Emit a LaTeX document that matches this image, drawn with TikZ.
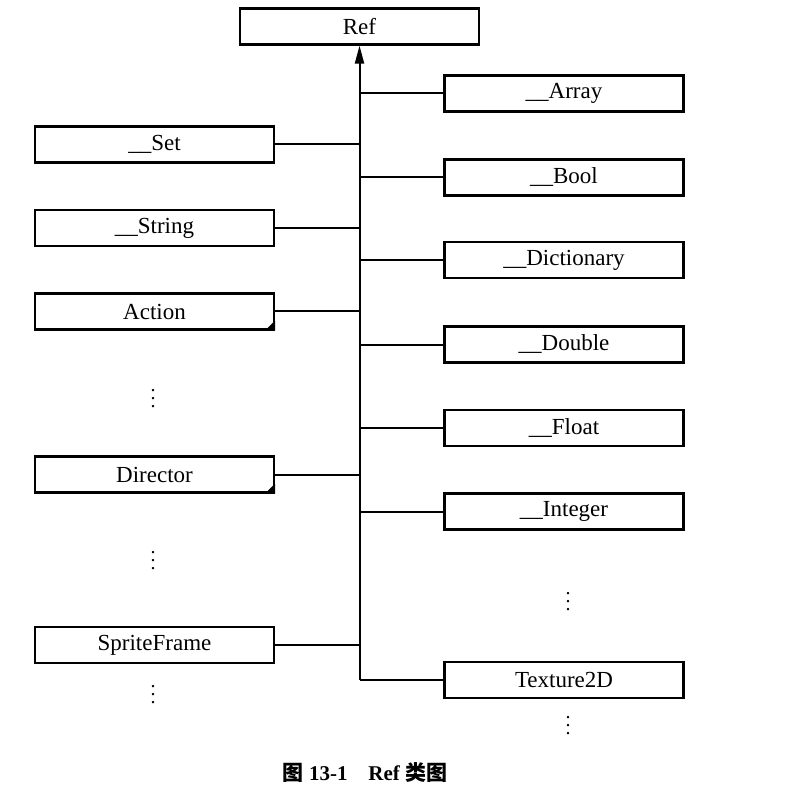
\documentclass[tikz,border=0pt]{standalone}
\usepackage{fontspec}
\setmainfont{Liberation Serif}
\newfontfamily\cjk{Noto Sans CJK SC}
\usetikzlibrary{positioning, arrows.meta, calc}

\tikzset{
  classbox/.style={draw, line width=1.1pt, inner sep=0pt, minimum width=119.5pt,
    minimum height=18pt, font=\fontsize{11.5}{13}\selectfont},
  link/.style={line width=1pt},
  more/.style={inner sep=0pt, font=\fontsize{10}{12}\selectfont},
}

\begin{document}
\begin{tikzpicture}[x=0.5pt, y=-0.5pt]
    \useasboundingbox (0,0) rectangle (800,806);
    % Classe base
    \node[classbox] (ref) at (359.5,26.5) {Ref};
    % Coluna da esquerda
    \node[classbox] (set) at (154.5,144.5) {\_\_Set};
    \node[classbox] (str) at (154.5,228) {\_\_String};
    \node[classbox] (act) at (154.5,311.5) {Action};
    \node[more] (ldots1) at (153,393) {$\vdots$};
    \node[classbox] (dir) at (154.5,474.5) {Director};
    \node[more] (ldots2) at (153,555) {$\vdots$};
    \node[classbox] (spf) at (154.5,645) {SpriteFrame};
    \node[more] (ldots3) at (153,689) {$\vdots$};
    % Coluna da direita
    \node[classbox] (arr) at (564,93.5) {\_\_Array};
    \node[classbox] (boo) at (564,177.5) {\_\_Bool};
    \node[classbox] (dic) at (564,260) {\_\_Dictionary};
    \node[classbox] (dou) at (564,344.5) {\_\_Double};
    \node[classbox] (flo) at (564,428) {\_\_Float};
    \node[classbox] (int) at (564,511.5) {\_\_Integer};
    \node[more] (rdots1) at (568,596) {$\vdots$};
    \node[classbox] (tex) at (564,680) {Texture2D};
    \node[more] (rdots2) at (568,720) {$\vdots$};
    % Cantos dobrados
    \foreach \b in {act, dir}
      \fill (\b.south east) -- ++(0,5pt) -- ++(-5pt,-5pt) -- cycle;
    % Tronco com seta
    \coordinate (trunk) at (ref.south |- tex.west);
    \draw[link, -{Triangle[length=9pt, width=4.5pt]}] (trunk) -- (ref.south);
    % Ligações
    \foreach \b in {set, str, act, dir, spf}
      \draw[link] (\b.east) -- (\b.east -| trunk);
    \foreach \b in {arr, boo, dic, dou, flo, int, tex}
      \draw[link] (\b.west) -- (\b.west -| trunk);
    % Legenda
    \node[font=\fontsize{10.5}{12}\selectfont\bfseries] (caption) at (365,773)
      {{\cjk 图} 13-1\quad Ref {\cjk 类图}};
  \end{tikzpicture}
\end{document}
